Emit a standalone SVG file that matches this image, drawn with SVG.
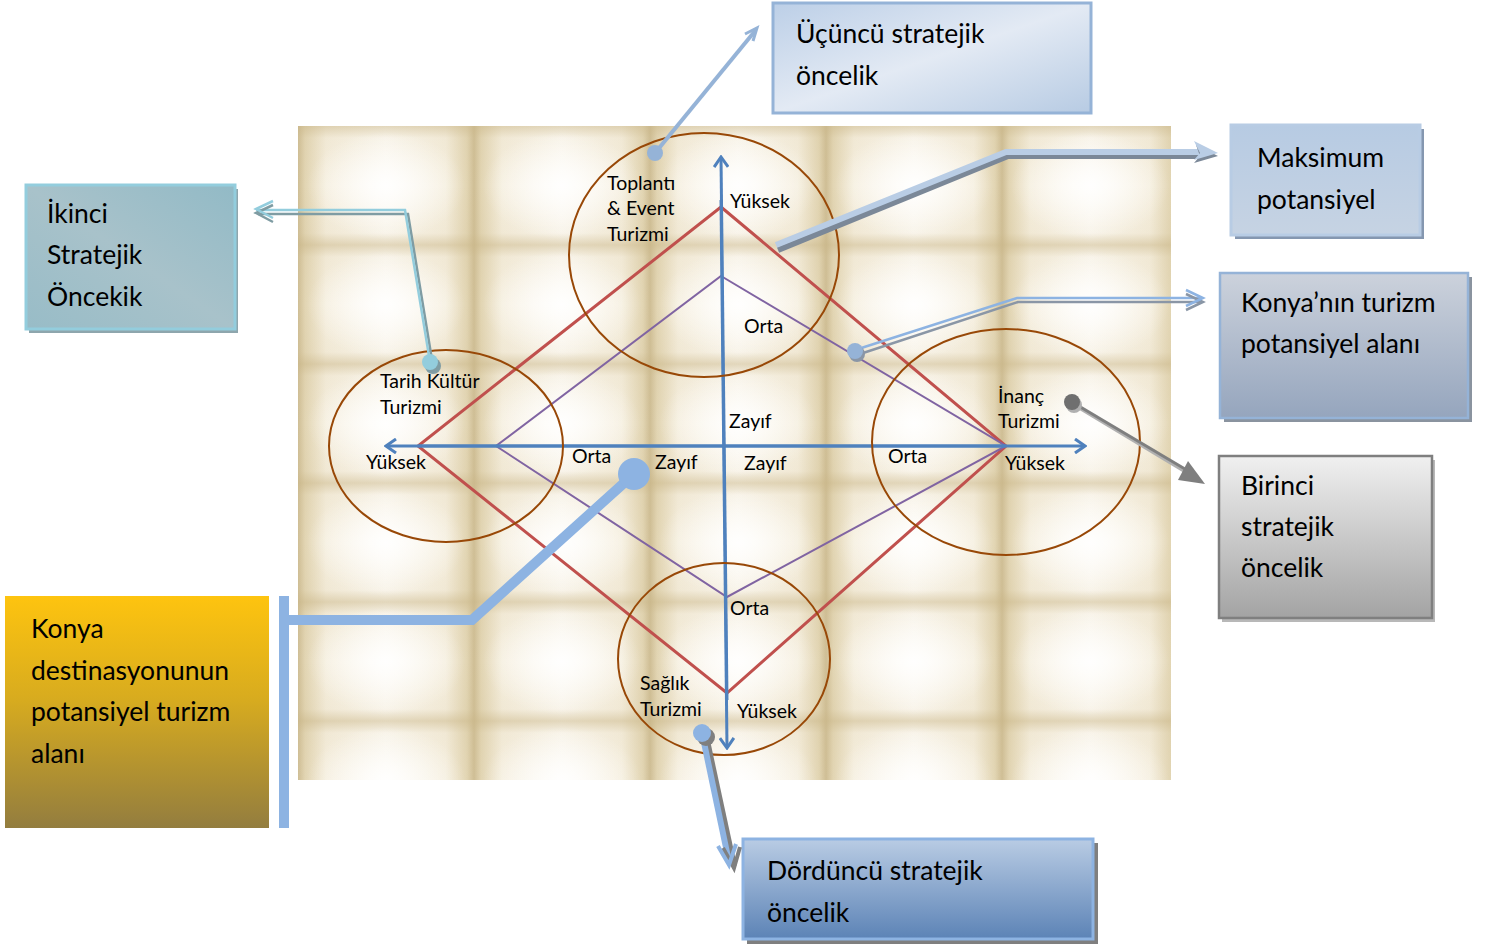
<svg xmlns="http://www.w3.org/2000/svg" width="1485" height="948" viewBox="0 0 1485 948">
  <defs>
    <style>
      .lbl { font-family: Lato, "Open Sans", "DejaVu Sans", sans-serif; font-size: 19.5px; fill: #000; }
      .big { font-family: Lato, "Open Sans", "DejaVu Sans", sans-serif; font-size: 26.5px; fill: #000; }
      .axis { fill: none; stroke: #4f81bd; stroke-width: 3; }
      .outer { fill: none; stroke: #c0504d; stroke-width: 3; stroke-linejoin: miter; }
      .inner { fill: none; stroke: #8064a2; stroke-width: 2; }
      .zone { fill: none; stroke: #984807; stroke-width: 2; }
    </style>
    <!-- quilted tile background -->
    <linearGradient id="tileH" x1="0" y1="0" x2="1" y2="0">
      <stop offset="0" stop-color="#cfbe95"/>
      <stop offset="0.04" stop-color="#e2d5b3"/>
      <stop offset="0.16" stop-color="#f5eedd"/>
      <stop offset="0.5" stop-color="#fdfaf3"/>
      <stop offset="0.84" stop-color="#f5eedd"/>
      <stop offset="0.96" stop-color="#e2d5b3"/>
      <stop offset="1" stop-color="#cfbe95"/>
    </linearGradient>
    <linearGradient id="tileV" x1="0" y1="0" x2="0" y2="1">
      <stop offset="0" stop-color="#c8b485" stop-opacity="0.5"/>
      <stop offset="0.1" stop-color="#c8b485" stop-opacity="0.1"/>
      <stop offset="0.5" stop-color="#c8b485" stop-opacity="0"/>
      <stop offset="0.9" stop-color="#c8b485" stop-opacity="0.1"/>
      <stop offset="1" stop-color="#c8b485" stop-opacity="0.5"/>
    </linearGradient>
    <radialGradient id="tileGlow" cx="0.5" cy="0.5" r="0.45">
      <stop offset="0" stop-color="#ffffff" stop-opacity="0.9"/>
      <stop offset="1" stop-color="#ffffff" stop-opacity="0"/>
    </radialGradient>
    <pattern id="quilt" x="298" y="126" width="176" height="119" patternUnits="userSpaceOnUse">
      <rect width="176" height="119" fill="url(#tileH)"/>
      <rect width="176" height="119" fill="url(#tileV)"/>
      <rect width="176" height="119" fill="url(#tileGlow)"/>
    </pattern>
    <!-- box fills -->
    <linearGradient id="gUcuncu" x1="0" y1="0" x2="1" y2="1">
      <stop offset="0" stop-color="#bccfe7"/>
      <stop offset="0.5" stop-color="#e3eaf4"/>
      <stop offset="1" stop-color="#b7cbe3"/>
    </linearGradient>
    <linearGradient id="gMaks" x1="0" y1="0" x2="0" y2="1">
      <stop offset="0" stop-color="#b7cbe3"/>
      <stop offset="1" stop-color="#c6d3e3"/>
    </linearGradient>
    <linearGradient id="gAlan" x1="0" y1="0" x2="0" y2="1">
      <stop offset="0" stop-color="#ccd2dc"/>
      <stop offset="1" stop-color="#95a5bd"/>
    </linearGradient>
    <linearGradient id="gBirinci" x1="0" y1="0" x2="0" y2="1">
      <stop offset="0" stop-color="#f0f0f0"/>
      <stop offset="1" stop-color="#a3a3a3"/>
    </linearGradient>
    <linearGradient id="gIkinci" x1="0" y1="1" x2="1" y2="0">
      <stop offset="0" stop-color="#98bcc7"/>
      <stop offset="0.5" stop-color="#a8c2ca"/>
      <stop offset="1" stop-color="#92bac6"/>
    </linearGradient>
    <linearGradient id="gKonya" x1="0" y1="0" x2="0" y2="1">
      <stop offset="0" stop-color="#fec40f"/>
      <stop offset="0.45" stop-color="#d7ab1f"/>
      <stop offset="1" stop-color="#937d3f"/>
    </linearGradient>
    <linearGradient id="gDord" x1="0" y1="0" x2="0" y2="1">
      <stop offset="0" stop-color="#b9cce4"/>
      <stop offset="1" stop-color="#5c83b6"/>
    </linearGradient>
    <marker id="axArrow" viewBox="0 0 16 16" refX="14" refY="8" markerWidth="16" markerHeight="16" markerUnits="userSpaceOnUse" orient="auto">
      <path d="M4,1 L14,8 L4,15" fill="none" stroke="#4f81bd" stroke-width="3"/>
    </marker>
  </defs>

  <rect width="1485" height="948" fill="#ffffff"/>

  <!-- chart surface -->
  <rect id="surface" x="298" y="126" width="873" height="654" fill="url(#quilt)"/>

  <!-- potential diamonds and axes -->
  <g id="chart">
    <polygon class="outer" points="721,207 1006,446 727,693 418,446"/>
    <polygon class="inner" points="721,276 1006,446 727,597 496,446"/>
    <line class="axis" x1="1006" y1="446" x2="386" y2="446" marker-end="url(#axArrow)"/>
    <line class="axis" x1="418" y1="446" x2="1085" y2="446" marker-end="url(#axArrow)"/>
    <line class="axis" x1="727" y1="700" x2="721" y2="157" marker-end="url(#axArrow)"/>
    <line class="axis" x1="721" y1="200" x2="727" y2="748" marker-end="url(#axArrow)"/>
  </g>

  <!-- scale labels -->
  <g id="scale">
    <text class="lbl" x="730" y="208">Yüksek</text>
    <text class="lbl" x="744" y="333">Orta</text>
    <text class="lbl" x="729" y="428">Zayıf</text>
    <text class="lbl" x="744" y="470">Zayıf</text>
    <text class="lbl" x="655" y="469">Zayıf</text>
    <text class="lbl" x="572" y="463">Orta</text>
    <text class="lbl" x="366" y="469">Yüksek</text>
    <text class="lbl" x="888" y="463">Orta</text>
    <text class="lbl" x="1005" y="470">Yüksek</text>
    <text class="lbl" x="730" y="615">Orta</text>
    <text class="lbl" x="737" y="718">Yüksek</text>
  </g>

  <!-- tourism zones -->
  <g id="zone-toplanti">
    <ellipse class="zone" cx="704" cy="255" rx="135" ry="122"/>
    <text class="lbl" x="607" y="190">Toplantı</text>
    <text class="lbl" x="607" y="215">&amp; Event</text>
    <text class="lbl" x="607" y="241">Turizmi</text>
  </g>
  <g id="zone-tarih">
    <ellipse class="zone" cx="446" cy="446" rx="117" ry="96"/>
    <text class="lbl" x="380" y="388">Tarih Kültür</text>
    <text class="lbl" x="380" y="414">Turizmi</text>
  </g>
  <g id="zone-inanc">
    <ellipse class="zone" cx="1006" cy="442" rx="134" ry="113"/>
    <text class="lbl" x="998" y="403">İnanç</text>
    <text class="lbl" x="998" y="428">Turizmi</text>
  </g>
  <g id="zone-saglik">
    <ellipse class="zone" cx="724" cy="659" rx="106" ry="96"/>
    <text class="lbl" x="640" y="690">Sağlık</text>
    <text class="lbl" x="640" y="716">Turizmi</text>
  </g>

  <!-- callout boxes -->
  <g id="box-ucuncu">
    <rect x="773" y="3" width="318" height="110" fill="url(#gUcuncu)" stroke="#95b3d7" stroke-width="3"/>
    <text class="big" x="796" y="43">Üçüncü stratejik</text>
    <text class="big" x="796" y="85">öncelik</text>
  </g>
  <g id="box-maksimum">
    <rect x="1235" y="129" width="189" height="110" fill="#8597b0"/>
    <rect x="1231" y="125" width="189" height="110" fill="url(#gMaks)" stroke="#b8cce4" stroke-width="3"/>
    <text class="big" x="1257" y="167">Maksimum</text>
    <text class="big" x="1257" y="209">potansiyel</text>
  </g>
  <g id="box-alan">
    <rect x="1224" y="277" width="248" height="145" fill="#8a939f"/>
    <rect x="1220" y="273" width="248" height="145" fill="url(#gAlan)" stroke="#95b3d7" stroke-width="2.5"/>
    <text class="big" x="1241" y="312">Konya’nın turizm</text>
    <text class="big" x="1241" y="353">potansiyel alanı</text>
  </g>
  <g id="box-birinci">
    <rect x="1222" y="460" width="213" height="162" fill="#b8b8b8"/>
    <rect x="1219" y="456" width="213" height="162" fill="url(#gBirinci)" stroke="#7f7f7f" stroke-width="2.5"/>
    <text class="big" x="1241" y="495">Birinci</text>
    <text class="big" x="1241" y="536">stratejik</text>
    <text class="big" x="1241" y="577">öncelik</text>
  </g>
  <g id="box-ikinci">
    <rect x="29" y="189" width="209" height="144" fill="#8ea6ad"/>
    <rect x="26" y="185" width="209" height="144" fill="url(#gIkinci)" stroke="#93cddd" stroke-width="3"/>
    <text class="big" x="47" y="223">İkinci</text>
    <text class="big" x="47" y="264">Stratejik</text>
    <text class="big" x="47" y="306">Öncekik</text>
  </g>
  <g id="box-konya">
    <rect x="5" y="596" width="264" height="232" fill="url(#gKonya)"/>
    <text class="big" x="31" y="638">Konya</text>
    <text class="big" x="31" y="680">destinasyonunun</text>
    <text class="big" x="31" y="721">potansiyel turizm</text>
    <text class="big" x="31" y="763">alanı</text>
  </g>
  <g id="box-dorduncu">
    <rect x="747" y="843" width="351" height="101" fill="#7f7f7f"/>
    <rect x="743" y="839" width="350" height="100" fill="url(#gDord)" stroke="#8db3e2" stroke-width="3"/>
    <text class="big" x="767" y="880">Dördüncü stratejik</text>
    <text class="big" x="767" y="922">öncelik</text>
  </g>

  <!-- connectors -->
  <g id="connectors" fill="none" stroke-linecap="butt" stroke-linejoin="miter">
    <!-- third priority -->
    <line x1="655" y1="153" x2="755" y2="31" stroke="#95b3d7" stroke-width="4"/>
    <path d="M745,34 L757,28 L753,41" stroke="#95b3d7" stroke-width="3"/>
    <circle cx="655" cy="153" r="8" fill="#95b3d7" stroke="none"/>

    <!-- maximum potential -->
    <path d="M778,250 L1008,156 L1208,156" stroke="#7b8898" stroke-width="6"/>
    <path d="M776,245 L1006,152 L1206,152" stroke="#b9cde5" stroke-width="6"/>
    <path d="M1196,145 L1218,156 L1194,163 L1200,156 Z" fill="#7b8898" stroke="none"/>
    <path d="M1194,141 L1218,153 L1194,160 L1200,153 Z" fill="#b9cde5" stroke="none"/>

    <!-- potential area -->
    <path d="M857,355 L1018,302 L1200,302" stroke="#8a96a6" stroke-width="2.5"/>
    <path d="M855,350 L1017,298 L1200,298" stroke="#8db3e2" stroke-width="2.5"/>
    <path d="M1186,294 L1203,302 L1186,310" stroke="#8a96a6" stroke-width="2.5"/>
    <path d="M1186,290 L1203,298 L1186,306" stroke="#8db3e2" stroke-width="2.5"/>
    <circle cx="857" cy="354" r="8" fill="#8a96a6" stroke="none"/>
    <circle cx="855" cy="351" r="8" fill="#95b3d7" stroke="none"/>

    <!-- first priority -->
    <line x1="1074" y1="405" x2="1192" y2="476" stroke="#b0b0b0" stroke-width="3"/>
    <line x1="1072" y1="402" x2="1190" y2="472" stroke="#7f7f7f" stroke-width="3"/>
    <polygon points="1188,461 1205,484 1178,480" fill="#7f7f7f" stroke="none"/>
    <circle cx="1074" cy="405" r="8" fill="#b0b0b0" stroke="none"/>
    <circle cx="1072" cy="402" r="8" fill="#6f6f6f" stroke="none"/>

    <!-- second priority -->
    <path d="M433,366 L408,214 L258,214" stroke="#7f9ca3" stroke-width="2.5"/>
    <path d="M430,362 L405,210 L256,210" stroke="#93cddd" stroke-width="2.5"/>
    <path d="M273,205 L256,213 L273,222" stroke="#7f9ca3" stroke-width="2.5"/>
    <path d="M273,201 L256,209 L273,218" stroke="#93cddd" stroke-width="2.5"/>
    <circle cx="433" cy="366" r="8" fill="#7f9ca3" stroke="none"/>
    <circle cx="430" cy="362" r="8" fill="#93cddd" stroke="none"/>

    <!-- fourth priority -->
    <line x1="706" y1="736" x2="734" y2="866" stroke="#7f7f7f" stroke-width="6"/>
    <line x1="702" y1="733" x2="729" y2="862" stroke="#8db3e2" stroke-width="6"/>
    <path d="M723,848 L734,868 L740,847" stroke="#7f7f7f" stroke-width="4"/>
    <path d="M718,846 L729,865 L736,844" stroke="#8db3e2" stroke-width="4"/>
    <circle cx="706" cy="737" r="9" fill="#7f7f7f" stroke="none"/>
    <circle cx="702" cy="733" r="9" fill="#8db3e2" stroke="none"/>

    <!-- destination area bracket -->
    <path d="M284,596 L284,828 M284,620 L472,620 L634,474" stroke="#8db3e2" stroke-width="10"/>
    <circle cx="634" cy="474" r="16" fill="#8db3e2" stroke="none"/>
  </g>
</svg>
